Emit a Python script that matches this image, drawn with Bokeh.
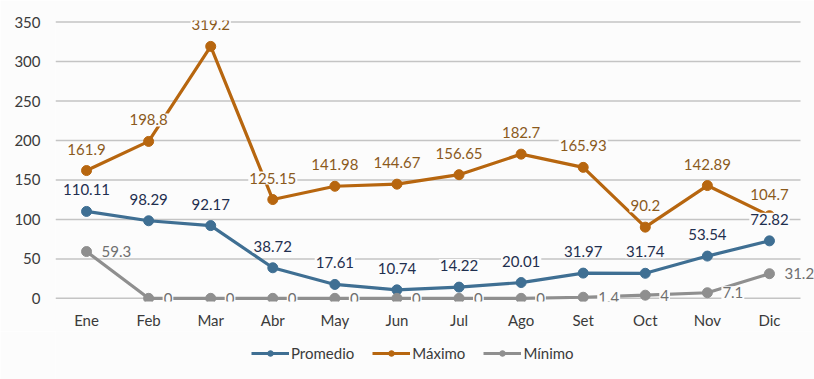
from bokeh.plotting import figure
from bokeh.models import ColumnDataSource, Legend, LegendItem, FixedTicker, Range1d
from bokeh.layouts import column
from bokeh.core.properties import value
from bokeh.embed import file_html
from bokeh.resources import INLINE

months = ["Ene", "Feb", "Mar", "Abr", "May", "Jun", "Jul", "Ago", "Set", "Oct", "Nov", "Dic"]
promedio = [110.11, 98.29, 92.17, 38.72, 17.61, 10.74, 14.22, 20.01, 31.97, 31.74, 53.54, 72.82]
maximo = [161.9, 198.8, 319.2, 125.15, 141.98, 144.67, 156.65, 182.7, 165.93, 90.2, 142.89, 104.7]
minimo = [59.3, 0, 0, 0, 0, 0, 0, 0, 1.4, 4, 7.1, 31.2]
y_ticks = [0, 50, 100, 150, 200, 250, 300, 350]

C_PROM = "#3f6f93"
C_MAX = "#b7660f"
C_MIN = "#8f8f8f"
FONT = "Lato"
BG = "#fcfcfc"

xs = list(range(len(months)))
x_lo, x_hi = -0.5, len(months) - 0.5

p = figure(x_range=Range1d(x_lo, x_hi + 0.2255), y_range=Range1d(-4, 352),
           width=814, height=331, output_backend="svg", toolbar_location=None,
           min_border_left=55, min_border_right=0, min_border_top=20, min_border_bottom=30)
p.background_fill_color = BG
p.border_fill_color = BG
p.outline_line_color = None
p.grid.visible = False

# horizontal gridlines, limited to the category band
for t in y_ticks:
    p.segment(x0=[x_lo], x1=[x_hi], y0=[t], y1=[t], line_color="#c4c4c4", line_width=1.5)

p.xaxis.ticker = FixedTicker(ticks=xs)
p.xaxis.major_label_overrides = {i: m for i, m in zip(xs, months)}
p.yaxis.ticker = FixedTicker(ticks=y_ticks)
for ax in (p.xaxis[0], p.yaxis[0]):
    ax.axis_line_color = None
    ax.major_tick_line_color = None
    ax.minor_tick_line_color = None
    ax.major_label_text_font = FONT
    ax.major_label_text_font_size = "15px"
    ax.major_label_text_color = "#3a3a3a"
p.xaxis.major_label_standoff = 3
p.yaxis.major_label_standoff = 9

def fmt(vals):
    return [f"{v:g}" for v in vals]

series = [
    ("Promedio", promedio, C_PROM, "#1f2f4f"),
    ("Máximo", maximo, C_MAX, "#8b5a1c"),
    ("Mínimo", minimo, C_MIN, "#6f6f6f"),
]

for name, vals, col, lcol in series:
    src = ColumnDataSource(dict(x=xs, y=vals))
    p.line("x", "y", source=src, line_color=col, line_width=3.2)
    p.scatter("x", "y", source=src, size=10, fill_color=col, line_color=col)

# data labels drawn after the lines, with a background that hides lines beneath
for name, vals, col, lcol in series:
    src = ColumnDataSource(dict(x=xs, y=vals, t=fmt(vals)))
    if name == "Mínimo":
        p.text(x="x", y="y", text="t", source=src, x_offset=14, y_offset=0,
               text_align="left", text_baseline="middle",
               text_font=value(FONT), text_font_size="15px", text_color=lcol,
               background_fill_color=BG, background_fill_alpha=1.0, padding=1)
    else:
        p.text(x="x", y="y", text="t", source=src, x_offset=0, y_offset=-15,
               text_align="center", text_baseline="bottom",
               text_font=value(FONT), text_font_size="15px", text_color=lcol,
               background_fill_color=BG, background_fill_alpha=1.0, padding=1)

# legend strip below the chart
q = figure(width=814, height=48, x_range=(0, 1), y_range=(0, 1),
           x_axis_location=None, y_axis_location=None,
           output_backend="svg", toolbar_location=None,
           min_border_left=0, min_border_right=0, min_border_top=0, min_border_bottom=0)
q.grid.visible = False
q.background_fill_color = BG
q.border_fill_color = BG
q.outline_line_color = None

items = []
for name, vals, col, lcol in series:
    r1 = q.line(x=[5, 6], y=[5, 6], line_color=col, line_width=3.2)
    r2 = q.scatter(x=[5, 6], y=[5, 6], size=10, fill_color=col, line_color=col)
    items.append(LegendItem(label=name, renderers=[r1, r2]))

legend = Legend(items=items, orientation="horizontal", location=(196, 17),
                glyph_width=38, glyph_height=14, label_standoff=2, spacing=18,
                label_text_font=FONT, label_text_font_size="15px", label_text_color="#3a3a3a",
                border_line_color=None, background_fill_alpha=0, padding=2, margin=0)
q.add_layout(legend)

layout = column(p, q, spacing=0)
open("out.html", "w").write(file_html(layout, INLINE))
